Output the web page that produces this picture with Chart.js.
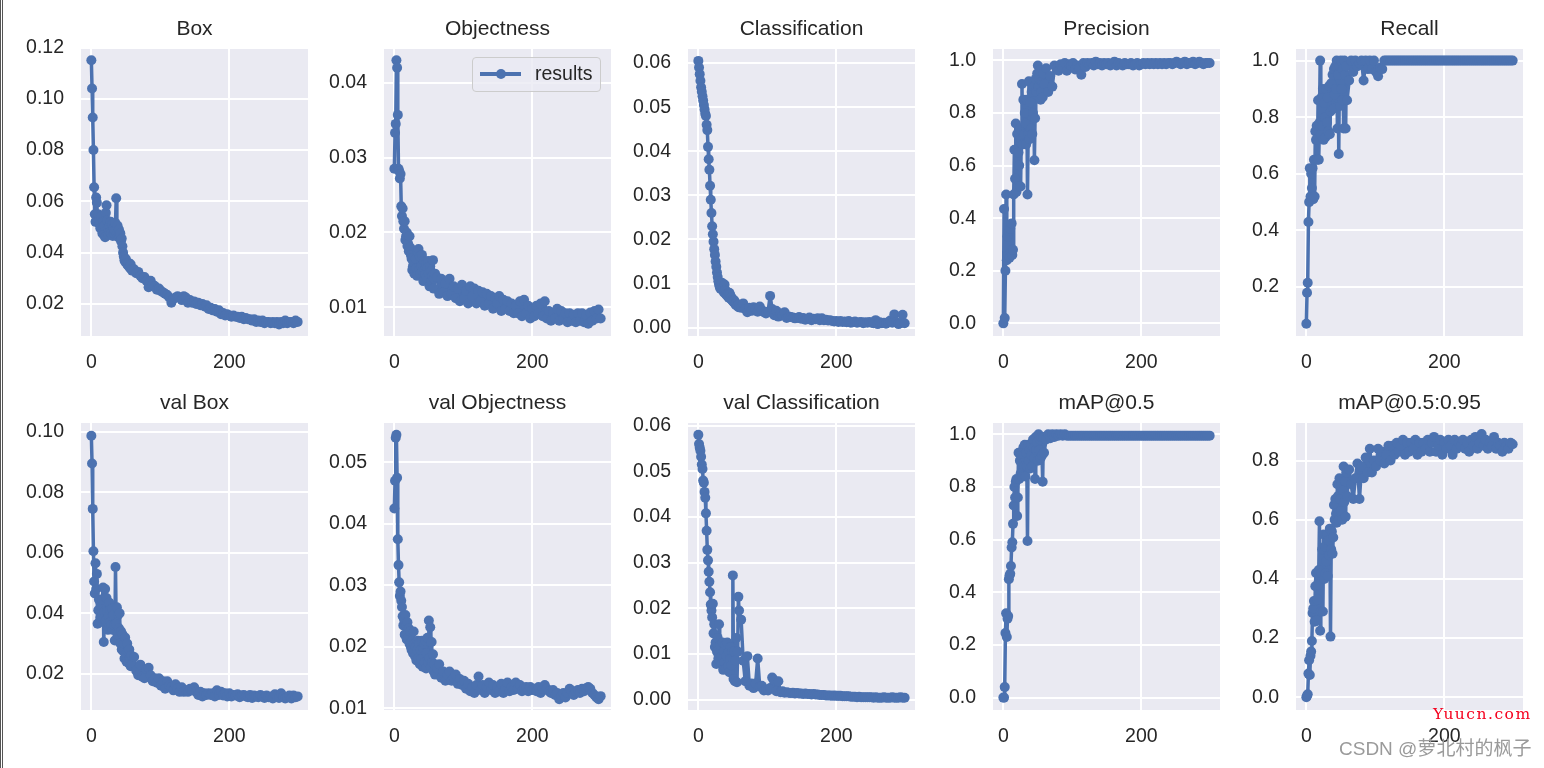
<!DOCTYPE html>
<html>
<head>
<meta charset="utf-8">
<title>results</title>
<script src="https://cdn.jsdelivr.net/npm/chart.js@4"></script>
<style>
  html, body { margin: 0; padding: 0; background: #fff; width: 1544px; height: 768px; overflow: hidden; font-family: "Liberation Sans", sans-serif; }
  #edge { position: absolute; left: 0; top: 0; width: 0; height: 768px; border-left: 3px double #555; }
  canvas { position: absolute; }
  #legend { position: absolute; left: 472px; top: 57px; width: 129px; height: 35px; box-sizing: border-box; background: rgba(234,234,242,0.8); border: 1.5px solid #cccccc; border-radius: 4px; color: #262626; font-size: 19.5px; line-height: 31px; }
  #legend i { position: absolute; left: 7px; top: 14px; width: 41px; height: 3.5px; background: #4c72b0; }
  #legend b { position: absolute; left: 23px; top: 11px; width: 10px; height: 10px; border-radius: 50%; background: #4c72b0; }
  #legend span { position: absolute; left: 62px; top: 0; }
  #mark1 { position: absolute; left: 1433px; top: 704px; color: #f5001d; font-family: "DejaVu Serif", serif; font-size: 15.5px; letter-spacing: 1.5px; line-height: 20px; white-space: nowrap; }
  #mark2 { position: absolute; left: 1339px; top: 737px; color: #9a9a9a; font-family: "Liberation Sans", "Noto Sans CJK SC", sans-serif; font-size: 19px; line-height: 24px; white-space: nowrap; }
</style>
</head>
<body>
<div id="edge"></div>
<div id="charts"></div>
<div id="legend"><i></i><b></b><span>results</span></div>
<div id="mark1">Yuucn.com</div>
<div id="mark2">CSDN @萝北村的枫子</div>
<script>
const epochs = [
  0,1,2,3,4,5,6,7,8,9,
  10,11,12,13,14,15,16,17,18,19,
  20,21,22,23,24,25,26,27,28,29,
  30,31,32,33,34,35,36,37,38,39,
  40,41,42,43,44,45,46,47,48,49,
  50,51,52,53,54,55,56,57,58,59,
  62,65,68,71,74,77,80,83,86,89,
  92,95,98,101,104,107,110,113,116,119,
  122,125,128,131,134,137,140,143,146,149,
  152,155,158,161,164,167,170,173,176,179,
  182,185,188,191,194,197,200,203,206,209,
  212,215,218,221,224,227,230,233,236,239,
  242,245,248,251,254,257,260,263,266,269,
  272,275,278,281,284,287,290,293,296,299
];

const box = [
  .115,.104,.0927,.080,.0655,.055,.052,.0615,.0595,.052,
  .055,.0525,.051,.0495,.054,.049,.0475,.052,.047,.0505,
  .046,.0555,.0585,.0525,.0495,.047,.0505,.048,.052,.0475,
  .051,.0465,.0495,.0475,.0485,.0515,.0612,.0475,.0505,.046,
  .049,.0465,.0475,.0445,.0455,.0425,.040,.0385,.037,.0365,
  .0375,.036,.0355,.035,.036,.0345,.034,.0355,.0335,.033,
  .0335,.032,.0325,.031,.030,.0305,.029,.0265,.029,.0275,
  .027,.0255,.026,.025,.0245,.024,.0235,.0225,.0205,.022,
  .0225,.023,.0225,.0215,.023,.0225,.0205,.0215,.0205,.021,
  .020,.0205,.0195,.020,.019,.0195,.018,.0185,.0175,.018,
  .017,.0175,.016,.0165,.0155,.016,.0155,.015,.0155,.015,
  .015,.0145,.015,.014,.0145,.014,.014,.0135,.014,.013,
  .0135,.013,.0135,.0125,.013,.013,.0125,.013,.0125,.013,
  .012,.013,.0125,.0135,.0125,.013,.013,.0125,.0135,.013
];
const objectness = [
  .0285,.0333,.0345,.043,.042,.0357,.0285,.0282,.0272,.0278,
  .0235,.0222,.0232,.0215,.0205,.0215,.019,.0195,.02,.0182,
  .0185,.0175,.0195,.018,.017,.0165,.015,.0155,.016,.0145,
  .015,.0165,.0152,.0142,.0175,.0178,.015,.0168,.0145,.0155,
  .017,.0148,.0135,.0162,.015,.0145,.0158,.014,.0152,.0162,
  .0145,.0128,.0155,.0148,.0135,.0142,.0163,.0125,.0138,.0145,
  .014,.0118,.0138,.012,.0132,.0115,.0138,.0118,.0128,.0112,
  .0125,.0108,.013,.0112,.0122,.0105,.0128,.0115,.0125,.0105,
  .0122,.0108,.012,.0102,.0118,.0105,.0115,.0098,.0112,.0105,
  .0115,.0095,.011,.0098,.0108,.0095,.0105,.0092,.0102,.0092,
  .0108,.0088,.011,.0092,.0102,.0085,.0098,.0088,.0102,.0092,
  .0105,.0088,.0108,.0085,.0095,.0082,.0092,.0085,.0098,.0082,
  .0095,.0085,.0092,.008,.0092,.0082,.009,.008,.0092,.0082,
  .0092,.008,.009,.0078,.0093,.0082,.0095,.0085,.0097,.0085
];
const classification = [
  .0605,.059,.0575,.056,.0545,.0535,.0525,.0515,.0505,.0495,
  .0485,.048,.046,.0448,.041,.0382,.0358,.0322,.029,.026,
  .023,.0212,.0195,.0178,.0165,.015,.0138,.0125,.0115,.0105,
  .0098,.0092,.0088,.0095,.0102,.0085,.009,.008,.0098,.0085,
  .0075,.0082,.0072,.0078,.0068,.0079,.0075,.0065,.0069,.0062,
  .006,.0058,.0062,.0055,.0052,.0055,.005,.0048,.0052,.0046,
  .0045,.0055,.0042,.0035,.0045,.0038,.0046,.0042,.0036,.0048,
  .004,.0035,.0032,.0036,.0072,.0042,.0028,.0038,.0025,.0032,
  .0028,.0035,.0022,.0025,.0024,.0023,.0021,.0022,.0024,.002,
  .0022,.0018,.002,.0023,.0017,.002,.0019,.0021,.0017,.0021,
  .0017,.0018,.0016,.0017,.0015,.0014,.0015,.0013,.0015,.0013,
  .0014,.0012,.0015,.0011,.0012,.0014,.0011,.0012,.0013,.001,
  .0012,.0011,.0013,.0011,.001,.0017,.0008,.0012,.001,.0011,
  .0009,.0012,.0016,.0011,.003,.0012,.0008,.001,.0029,.001
];
const precision = [
  0,.435,.02,.20,.49,.24,.33,.26,.35,.25,
  .36,.27,.38,.26,.28,.49,.66,.55,.76,.50,
  .72,.52,.65,.60,.74,.52,.70,.91,.68,.85,
  .72,.80,.76,.68,.85,.49,.72,.92,.70,.84,
  .74,.88,.72,.80,.90,.62,.78,.93,.88,.95,
  .98,.90,.93,.96,.85,.88,.92,.86,.95,.91,
  .97,.88,.94,.90,.98,.97,.96,.985,.97,.99,
  .96,.985,.98,.99,.965,.98,.97,.945,.99,.975,
  .99,.985,.99,.98,.995,.985,.99,.98,.99,.985,
  .99,.98,.985,.995,.98,.99,.985,.98,.99,.985,
  .985,.99,.98,.985,.99,.98,.985,.99,.985,.99,
  .985,.99,.985,.99,.985,.99,.985,.99,.985,.99,
  .99,.985,.99,.995,.99,.985,.99,.995,.985,.99,
  .99,.995,.985,.99,.995,.99,.985,.99,.99,.99
];
const recall = [
  .07,.18,.215,.43,.50,.62,.52,.60,.55,.62,
  .51,.65,.52,.75,.72,.77,.65,.86,.65,.78,
  1,.74,.87,.77,.90,.72,.85,.80,.73,.90,
  .78,.87,.75,.91,.74,.82,.92,.84,.95,.83,
  .97,.88,.98,.90,1,.76,.95,.67,.98,.84,
  1,.90,.86,.97,.76,1,.95,.76,.98,.86,
  .93,1,.96,1,.98,.99,1,.93,1,.97,
  1,.97,1,.96,.945,.975,.97,1,1,1,
  1,1,1,1,1,1,1,1,1,1,
  1,1,1,1,1,1,1,1,1,1,
  1,1,1,1,1,1,1,1,1,1,
  1,1,1,1,1,1,1,1,1,1,
  1,1,1,1,1,1,1,1,1,1,
  1,1,1,1,1,1,1,1,1,1
];
const valBox = [
  .0987,.0895,.0745,.0605,.0505,.0465,.0565,.048,.053,.0365,
  .041,.0445,.037,.0385,.0425,.039,.0445,.0485,.0305,.0405,
  .048,.0375,.045,.0405,.0345,.039,.0435,.037,.041,.036,
  .0415,.0345,.0395,.036,.031,.0553,.0365,.042,.033,.0395,
  .035,.040,.030,.034,.028,.033,.0275,.030,.025,.032,
  .0265,.024,.030,.0275,.0235,.028,.025,.0225,.026,.023,
  .0255,.021,.0195,.023,.019,.0185,.0215,.022,.0195,.0175,
  .0185,.017,.0185,.016,.0175,.015,.0175,.016,.0155,.0145,
  .0165,.015,.014,.0155,.014,.0145,.014,.015,.0145,.0155,
  .014,.013,.014,.0125,.0135,.013,.0135,.013,.0135,.0125,
  .0145,.013,.014,.0128,.0135,.0125,.0135,.0125,.013,.0128,
  .0132,.0122,.0128,.013,.0125,.0122,.013,.012,.0128,.0125,
  .0122,.013,.0125,.012,.0128,.0122,.0125,.0118,.0132,.0125,
  .012,.0135,.0125,.0118,.0122,.0128,.0118,.0128,.0122,.0125
];
const valObjectness = [
  .0425,.047,.054,.0545,.0475,.0375,.0333,.0305,.0283,.029,
  .0275,.0265,.025,.0235,.0245,.022,.0252,.0235,.0212,.024,
  .0215,.023,.0205,.0225,.02,.0195,.021,.019,.0225,.0205,
  .0185,.02,.0178,.0195,.021,.0182,.0205,.0172,.0195,.018,
  .021,.0168,.0198,.0205,.0175,.021,.0165,.019,.0215,.0175,
  .0243,.0182,.0232,.0168,.0208,.0175,.0188,.016,.0172,.0155,
  .0165,.0172,.015,.016,.0145,.0155,.016,.0145,.015,.0155,
  .014,.0148,.0138,.0145,.0132,.014,.0128,.0135,.0125,.0138,
  .0152,.013,.0138,.0125,.0135,.0142,.013,.0138,.0125,.0135,
  .0128,.014,.0125,.0132,.0142,.0128,.0135,.013,.0142,.0132,
  .0138,.0128,.0132,.0135,.0128,.0135,.013,.0132,.0128,.0135,
  .0125,.0132,.0138,.0132,.0128,.0125,.013,.0122,.0125,.0115,
  .012,.0125,.0118,.0125,.0132,.0128,.0122,.0128,.013,.0125,
  .0132,.0128,.0133,.0135,.0132,.0125,.0122,.0118,.0115,.012
];
const valClassification = [
  .058,.056,.0552,.0545,.0532,.0515,.0505,.048,.0475,.0455,
  .0442,.0408,.037,.0328,.0305,.028,.0258,.0235,.0208,.0195,
  .018,.021,.0145,.0165,.0115,.0125,.0078,.0105,.0135,.009,
  .0165,.0085,.012,.0078,.0095,.0125,.0065,.0105,.0082,.012,
  .0068,.0095,.0125,.0072,.0105,.006,.0088,.0115,.0075,.0105,
  .0272,.0045,.0105,.004,.0085,.0135,.0038,.0105,.0225,.0195,
  .0175,.0085,.004,.0095,.003,.0035,.0025,.0035,.009,.0028,
  .003,.002,.0022,.002,.0025,.0048,.0042,.0018,.004,.0016,
  .0018,.0015,.0016,.0015,.0014,.0015,.0013,.0014,.0013,.0013,
  .0012,.0013,.0012,.0012,.0011,.0012,.0011,.0011,.001,.001,
  .001,.0009,.0009,.0009,.0008,.0009,.0008,.0008,.0008,.0007,
  .0007,.0007,.0007,.0006,.0006,.0006,.0005,.0006,.0005,.0005,
  .0005,.0005,.0005,.0005,.0004,.0005,.0004,.0004,.0004,.0005,
  .0004,.0004,.0004,.0005,.0004,.0004,.0004,.0005,.0004,.0004
];
const map50 = [
  0,0,.04,.245,.32,.23,.30,.31,.45,.465,
  .47,.50,.57,.59,.66,.73,.80,.76,.82,.83,
  .69,.76,.93,.83,.90,.85,.92,.84,.89,.95,
  .88,.96,.84,.93,.88,.595,.96,.90,.94,.87,
  .96,.92,.88,.98,.95,.91,.83,.99,.94,.97,
  .90,1,.94,.98,.91,.99,.92,.82,.99,.93,
  .98,1,.985,1,.99,1,.995,1,.995,1,
  .995,.995,.995,.995,.995,.995,.995,.995,.995,.995,
  .995,.995,.995,.995,.995,.995,.995,.995,.995,.995,
  .995,.995,.995,.995,.995,.995,.995,.995,.995,.995,
  .995,.995,.995,.995,.995,.995,.995,.995,.995,.995,
  .995,.995,.995,.995,.995,.995,.995,.995,.995,.995,
  .995,.995,.995,.995,.995,.995,.995,.995,.995,.995,
  .995,.995,.995,.995,.995,.995,.995,.995,.995,.995
];
const map5095 = [
  0,.005,.01,.08,.125,.075,.14,.155,.19,.285,
  .30,.325,.255,.375,.42,.26,.33,.38,.43,.595,
  .225,.29,.42,.50,.29,.55,.40,.51,.42,.46,
  .55,.41,.53,.48,.57,.205,.50,.56,.485,.54,
  .65,.60,.67,.62,.59,.72,.68,.60,.74,.67,
  .63,.72,.60,.70,.78,.66,.73,.61,.76,.68,
  .77,.72,.67,.74,.79,.67,.78,.74,.81,.76,
  .84,.76,.80,.78,.84,.80,.83,.79,.82,.85,
  .80,.85,.82,.86,.83,.85,.87,.82,.86,.83,
  .86,.84,.87,.82,.86,.83,.86,.84,.87,.83,
  .86,.88,.83,.85,.87,.82,.86,.84,.87,.85,
  .82,.87,.84,.86,.85,.87,.84,.86,.83,.87,
  .85,.88,.84,.86,.89,.85,.87,.84,.86,.85,
  .88,.84,.86,.85,.83,.86,.85,.84,.86,.855
];

const xTickValues = [0, 200];
const panels = [
  { title: "Box", values: box, ticks: [.02,.04,.06,.08,.10,.12], dec: 2, min: .0075, max: .1194, left: 81, top: 49 },
  { title: "Objectness", values: objectness, ticks: [.01,.02,.03,.04], dec: 2, min: .00617, max: .0445, left: 384, top: 49 },
  { title: "Classification", values: classification, ticks: [0,.01,.02,.03,.04,.05,.06], dec: 2, min: -.0019, max: .0632, left: 688, top: 49 },
  { title: "Precision", values: precision, ticks: [0,.2,.4,.6,.8,1], dec: 1, min: -.048, max: 1.043, left: 993, top: 49 },
  { title: "Recall", values: recall, ticks: [.2,.4,.6,.8,1], dec: 1, min: .027, max: 1.041, left: 1296, top: 49 },
  { title: "val Box", values: valBox, ticks: [.02,.04,.06,.08,.10], dec: 2, min: .008, max: .1029, left: 81, top: 423 },
  { title: "val Objectness", values: valObjectness, ticks: [.01,.02,.03,.04,.05], dec: 2, min: .00975, max: .0564, left: 384, top: 423 },
  { title: "val Classification", values: valClassification, ticks: [0,.01,.02,.03,.04,.05,.06], dec: 2, min: -.0023, max: .0606, left: 688, top: 423 },
  { title: "mAP@0.5", values: map50, ticks: [0,.2,.4,.6,.8,1], dec: 1, min: -.047, max: 1.043, left: 993, top: 423 },
  { title: "mAP@0.5:0.95", values: map5095, ticks: [0,.2,.4,.6,.8], dec: 1, min: -.043, max: .927, left: 1296, top: 423 }
];

const plotW = 227, plotH = 287;
const padL = 70, padT = 40, padB = 44, padR = 6;
const blue = "#4c72b0", ink = "#262626";
const fontFamily = "'Liberation Sans', sans-serif";

// seaborn style grey panel behind the grid
const panelBg = {
  id: "panelBg",
  beforeDraw(chart) {
    const a = chart.chartArea;
    chart.ctx.save();
    chart.ctx.fillStyle = "#eaeaf2";
    chart.ctx.fillRect(a.left, a.top, a.right - a.left, a.bottom - a.top);
    chart.ctx.restore();
  }
};

function makeChart(p) {
  const c = document.createElement("canvas");
  c.style.left = (p.left - padL) + "px";
  c.style.top = (p.top - padT) + "px";
  c.style.width = (plotW + padL + padR) + "px";
  c.style.height = (plotH + padT + padB) + "px";
  c.width = plotW + padL + padR;
  c.height = plotH + padT + padB;
  document.getElementById("charts").appendChild(c);

  new Chart(c.getContext("2d"), {
    type: "line",
    data: {
      datasets: [{
        label: "results",
        data: epochs.map((e, i) => ({ x: e, y: p.values[i] })),
        borderColor: blue,
        backgroundColor: blue,
        borderWidth: 3.5,
        borderJoinStyle: "round",
        borderCapStyle: "round",
        pointRadius: 5,
        pointBorderWidth: 0,
        tension: 0
      }]
    },
    options: {
      responsive: false,
      animation: false,
      layout: { autoPadding: false, padding: { right: padR } },
      plugins: {
        legend: { display: false },
        tooltip: { enabled: false },
        title: {
          display: true,
          text: p.title,
          color: ink,
          fullSize: false,
          font: { family: fontFamily, size: 21, weight: "normal", lineHeight: 1.2 },
          padding: { top: 7.9, bottom: 6.9 }
        }
      },
      scales: {
        x: {
          type: "linear",
          min: -15,
          max: 314,
          border: { display: false },
          grid: { color: "#ffffff", lineWidth: 2, drawTicks: false },
          ticks: { color: ink, font: { family: fontFamily, size: 19.5 }, padding: 15, maxRotation: 0, callback: v => String(v) },
          afterBuildTicks: s => { s.ticks = xTickValues.map(value => ({ value })); },
          afterFit: s => { s.height = padB; }
        },
        y: {
          min: p.min,
          max: p.max,
          border: { display: false },
          grid: {
            lineWidth: 2,
            drawTicks: false,
            color: ctx => (ctx.tick && ctx.tick.value > p.max) ? "transparent" : "#ffffff"
          },
          ticks: { color: ink, font: { family: fontFamily, size: 19.5 }, padding: 17, callback: v => Number(v).toFixed(p.dec) },
          afterBuildTicks: s => { s.ticks = p.ticks.map(value => ({ value })); },
          afterFit: s => { s.width = padL; }
        }
      }
    },
    plugins: [panelBg]
  });
}

panels.forEach(makeChart);
</script>
</body>
</html>
